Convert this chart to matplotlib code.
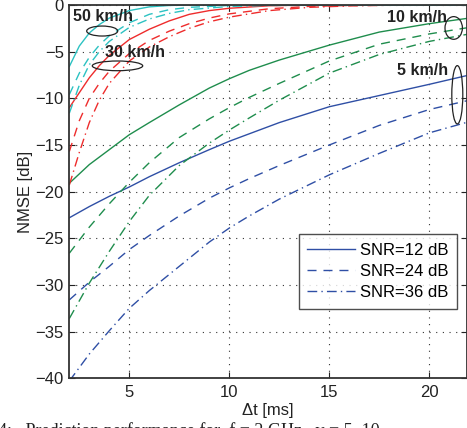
import matplotlib
matplotlib.use("Agg")
import matplotlib.pyplot as plt
from matplotlib.patches import Ellipse
from matplotlib.lines import Line2D

plt.rcParams['font.family'] = ['Liberation Sans', 'DejaVu Sans']

# ---- data ----
dt_slow = [2, 3, 4, 5, 6, 7.5, 9, 10, 11, 12.5, 15, 17.5, 20, 22]
v5_snr12 = [-22.8, -21.6, -20.5, -19.5, -18.4, -16.9, -15.5, -14.6, -13.8, -12.6, -10.9, -9.7, -8.5, -7.5]
v5_snr24 = [-31.6, -29.7, -28.0, -26.2, -24.7, -22.6, -20.7, -19.6, -18.6, -17.2, -15.0, -12.9, -11.2, -10.2]
v5_snr36 = [-40.3, -37.4, -34.9, -32.5, -30.6, -28.0, -25.4, -23.9, -22.6, -20.8, -18.2, -15.9, -13.7, -12.5]

v10_snr12 = [-19.1, -17.1, -15.5, -13.9, -12.6, -10.7, -8.9, -7.9, -7.0, -5.9, -4.3, -2.9, -2.0, -1.4]
v10_snr24 = [-26.6, -23.8, -21.3, -19.0, -16.9, -14.2, -12.2, -11.0, -9.9, -8.4, -6.0, -4.2, -3.1, -2.4]
v10_snr36 = [-33.6, -29.8, -26.4, -23.2, -20.4, -17.2, -14.8, -13.4, -12.1, -10.2, -7.3, -5.3, -3.9, -3.1]

dt_30 = [2, 2.5, 3, 3.5, 4, 5, 6, 7, 8, 9, 10, 12, 14, 16, 18, 22]
v30_snr12 = [-11.0, -9.4, -7.8, -6.5, -5.4, -3.7, -2.6, -1.7, -1.0, -0.6, -0.35, -0.08, 0, 0, 0, 0]
v30_snr24 = [-15.7, -12.4, -10.0, -8.4, -7.1, -5.2, -3.8, -2.8, -2.0, -1.4, -0.95, -0.4, -0.15, -0.05, 0, 0]
v30_snr36 = [-19.3, -15.8, -12.6, -10.2, -8.4, -6.0, -4.5, -3.4, -2.5, -1.8, -1.3, -0.6, -0.25, -0.1, -0.03, 0]

dt_50 = [2, 2.5, 3, 3.5, 4, 5, 6, 7, 8, 10, 12, 22]
v50_snr12 = [-6.6, -4.4, -3.0, -2.1, -1.4, -0.6, -0.2, -0.05, 0, 0, 0, 0]
v50_snr24 = [-9.6, -7.3, -5.6, -4.3, -3.3, -1.9, -1.0, -0.5, -0.25, -0.05, 0, 0]
v50_snr36 = [-11.6, -8.6, -6.4, -5.0, -3.9, -2.4, -1.5, -0.9, -0.5, -0.15, -0.05, 0]

snr_labels = ['SNR=12 dB', 'SNR=24 dB', 'SNR=36 dB']
x_ticks = [5, 10, 15, 20]
y_ticks = [0, -5, -10, -15, -20, -25, -30, -35, -40]

# ---- styles ----
c_blue = '#2f4fa5'
c_green = '#1f8d4d'
c_red = '#ee2c2c'
c_cyan = '#2cc2c2'
styles = [dict(linestyle='-'),
          dict(linestyle=(0, (6.5, 5))),
          dict(linestyle=(0, (7, 3, 1, 3)))]

W, H = 467, 428
fig = plt.figure(figsize=(W / 100, H / 100), dpi=100)
ax_l, ax_r, ax_t, ax_b = 69.3, 467.0, 5.0, 378.3
ax = fig.add_axes([ax_l / W, 1 - ax_b / H, (ax_r - ax_l) / W, (ax_b - ax_t) / H])

groups = [
    (dt_slow, [v5_snr12, v5_snr24, v5_snr36], c_blue),
    (dt_slow, [v10_snr12, v10_snr24, v10_snr36], c_green),
    (dt_30, [v30_snr12, v30_snr24, v30_snr36], c_red),
    (dt_50, [v50_snr12, v50_snr24, v50_snr36], c_cyan),
]
for xs, series, col in groups:
    for ys, st in zip(series, styles):
        ax.plot(xs, ys, color=col, lw=1.0, **st)

ax.set_xlim(2, 21.885)
ax.set_ylim(-40, 0)
ax.set_xticks(x_ticks)
ax.set_yticks(y_ticks)
ax.set_yticklabels([str(v).replace('-', '\u2212') for v in y_ticks])
ax.tick_params(direction='in', length=4, width=0.8, top=True, right=True,
               labelsize=12, pad=5, colors='#222222')
ax.tick_params(axis='y', pad=4)
ax.grid(True, color='#333333', linestyle=(0, (1, 5)), linewidth=0.8)
for s in ax.spines.values():
    s.set_color('#333333')
    s.set_linewidth(1.3)

ax.set_xlabel('\u0394t [ms]', fontsize=12, labelpad=2, color='#222222')
ax.set_ylabel('NMSE [dB]', fontsize=12, labelpad=2, color='#222222')

# annotations
tkw = dict(fontsize=11.5, fontweight='bold', color='#222222')
ax.text(2.2, -1.75, '50 km/h', **tkw)
ax.text(3.8, -5.55, '30 km/h', **tkw)
ax.text(17.9, -1.8, '10 km/h', **tkw)
ax.text(18.4, -7.5, '5 km/h', **tkw)
for cx, cy, w, h in [(3.645, -2.79, 1.55, 1.07), (4.41, -6.52, 2.52, 1.04),
                     (21.22, -2.46, 0.87, 2.43), (21.4, -9.62, 0.55, 6.25)]:
    ax.add_patch(Ellipse((cx, cy), w, h, fill=False, ec='#222222', lw=0.9, zorder=5))

handles = [Line2D([], [], color=c_blue, lw=1.0, **st) for st in styles]
leg = ax.legend(handles, snr_labels, loc='upper right', bbox_to_anchor=(0.975, 0.386),
                fontsize=12, frameon=True, fancybox=False, handlelength=2.9,
                labelspacing=0.38, borderpad=0.5, handletextpad=0.3, borderaxespad=0)
leg.get_frame().set_edgecolor('#222222')
leg.get_frame().set_linewidth(1.0)

fig.text(-2 / W, 1 - 422 / H, '4:   Prediction performance for  f = 2 GHz,  v = 5, 10',
         family=['Liberation Serif', 'DejaVu Serif'], fontsize=13, va='top', ha='left',
         color='#222222')

fig.savefig('out.png', dpi=100)
